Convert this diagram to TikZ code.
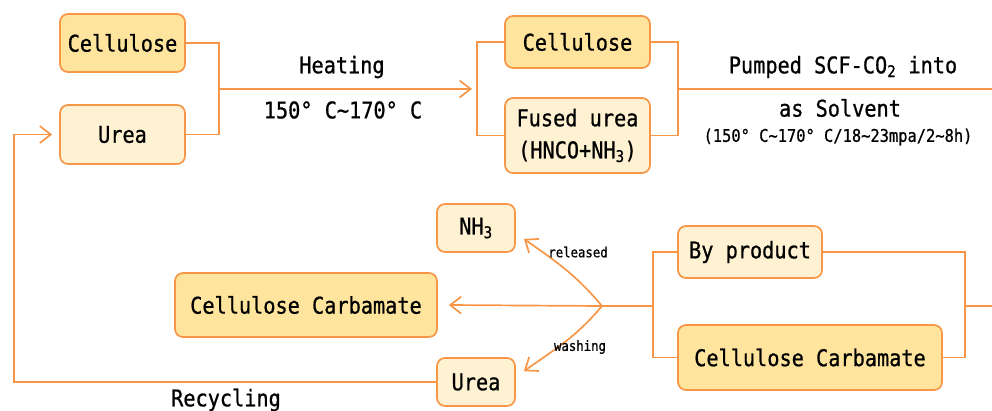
\documentclass[tikz,border=0pt]{standalone}
\usepackage{fontspec}
\newfontfamily\dmono[FakeStretch=0.88,FakeBold=0.8]{DejaVu Sans Mono}
\usetikzlibrary{arrows.meta}
\definecolor{lineor}{RGB}{247,150,70}
\definecolor{filldark}{RGB}{254,228,156}
\definecolor{filllight}{RGB}{254,242,210}
\tikzset{
  box/.style={draw=lineor, line width=1.7pt, rounded corners=8pt, inner sep=0pt,
    font=\dmono\fontsize{23}{32}\selectfont, text=black, align=center},
  darkbox/.style={box, fill=filldark},
  lightbox/.style={box, fill=filllight},
  conn/.style={draw=lineor, line width=1.7pt},
  arr/.style={conn, -{Straight Barb[length=11pt,width=17pt]}},
  lbl/.style={font=\dmono\fontsize{23}{27}\selectfont, inner sep=0pt},
  smalllbl/.style={font=\dmono\fontsize{17.5}{20}\selectfont, inner sep=0pt},
  tinylbl/.style={font=\dmono\fontsize{14}{16}\selectfont, inner sep=0pt}
}
\begin{document}
\begin{tikzpicture}[x=1pt,y=1pt]
\useasboundingbox (0,0) rectangle (992,-410);
% boxes
\node[darkbox, minimum width=125pt, minimum height=58pt] (cel1) at (122.5,-43) {Cellulose};
\node[lightbox, minimum width=125pt, minimum height=59pt] (urea1) at (122.5,-134.5) {Urea};
\node[darkbox, minimum width=145pt, minimum height=52pt] (cel2) at (577.5,-42) {Cellulose};
\node[lightbox, minimum width=145pt, minimum height=75pt] (fused) at (577.5,-135.5) {Fused urea\\(HNCO+NH\textsubscript{3})};
\node[lightbox, minimum width=78pt, minimum height=48pt] (nh3) at (476,-228) {NH\textsubscript{3}};
\node[darkbox, minimum width=262pt, minimum height=64pt] (cc1) at (306,-305) {Cellulose Carbamate};
\node[lightbox, minimum width=78pt, minimum height=48pt] (urea2) at (476,-382) {Urea};
\node[lightbox, minimum width=144pt, minimum height=52pt] (byp) at (750,-252) {By product};
\node[darkbox, minimum width=264pt, minimum height=65pt] (cc2) at (810,-357.5) {Cellulose Carbamate};
% junctions
\coordinate (j1) at (219,-89);
\coordinate (j2) at (477,-89);
\coordinate (j3) at (678,-89);
\coordinate (e1) at (992,-89);
\coordinate (j4) at (965,-306);
\coordinate (e2) at (992,-306);
\coordinate (j5) at (653,-306);
\coordinate (s) at (602,-306);
\coordinate (r1) at (14,-382);
% connectors
\draw[conn] (cel1.east) -| (j1) |- (urea1.east);
\draw[arr] (j1) -- ([xshift=-5pt]j2);
\draw[conn] (cel2.west) -| (j2) |- (fused.west);
\draw[conn] (cel2.east) -| (j3) |- (fused.east);
\draw[conn] (j3) -- (e1);
\draw[conn] (byp.east) -| (j4) |- (cc2.east);
\draw[conn] (j4) -- (e2);
\draw[conn] (byp.west) -| (j5) |- (cc2.west);
\draw[conn] (j5) -- (s);
\draw[arr] (s) -- ([xshift=11pt]cc1.east);
\draw[arr] (s) to[out=130,in=-35] ([shift={(8pt,14pt)}]nh3.south east);
\draw[arr] (s) to[out=-130,in=35] ([shift={(8pt,-14pt)}]urea2.north east);
\draw[arr] (urea2.west) -- (r1) |- ([xshift=-7pt]urea1.west);
% labels
\node[lbl] (heat) at (342,-67) {Heating};
\node[lbl] (temp) at (343,-110) {150° C\char`\~170° C};
\node[lbl] (pump) at (843,-67) {Pumped SCF-CO\textsubscript{2} into};
\node[lbl] (solv) at (840,-108) {as Solvent};
\node[smalllbl] (cond) at (838,-137) {(150° C\char`\~170° C/18\char`\~23mpa/2\char`\~8h)};
\node[tinylbl] (rel) at (578,-252) {released};
\node[tinylbl] (wash) at (580,-347) {washing};
\node[lbl] (recy) at (226,-400) {Recycling};
\end{tikzpicture}
\end{document}
